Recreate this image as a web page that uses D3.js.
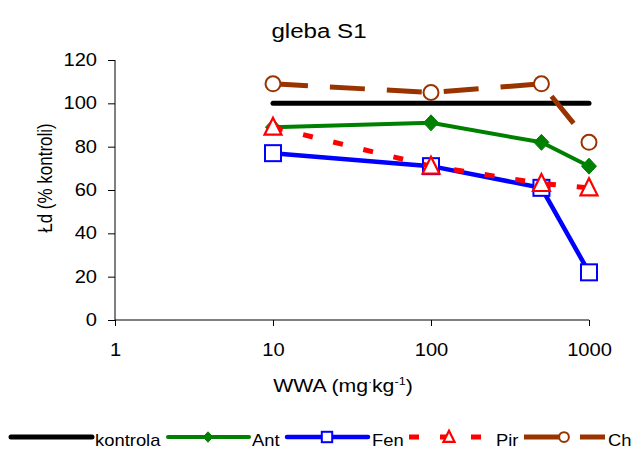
<!DOCTYPE html>
<html lang="pl">
<head>
<meta charset="UTF-8">
<title>gleba S1</title>
<script src="https://cdn.jsdelivr.net/npm/d3@7"></script>
<style>
  body { margin: 0; background: #fff; font-family: 'Liberation Sans', Arial, sans-serif; }
  svg text { font-family: 'Liberation Sans', Arial, sans-serif; fill: #000; }
</style>
</head>
<body>
<svg id="chart" width="634" height="449"></svg>
<script>
// dawki WWA (mg/kg)
const doses = [10, 100, 500, 1000];
const xTicks = [1, 10, 100, 1000];
const yTicks = [0, 20, 40, 60, 80, 100, 120];

const kontrola = [100, 100, 100, 100];
const ant = [89, 91, 82, 71];
const fen = [77, 71, 61, 22];
const pir = [89, 71, 63, 61];
const ch = [109, 105, 109, 82];

const svg = d3.select("#chart");
const x = d3.scaleLog().domain([1, 1000]).range([115, 589]);
const y = d3.scaleLinear().domain([0, 120]).range([320, 60]);
const SX = 1.15; // text in the original is a bit wider than Arial

// title
svg.append("g").attr("transform", `translate(319,38) scale(${SX},1)`)
  .append("text").attr("text-anchor", "middle").attr("font-size", 21).text("gleba S1");

// axes
const yAxis = svg.append("g").attr("transform", "translate(115,0)")
  .call(d3.axisLeft(y).tickValues(yTicks).tickSize(7).tickPadding(11).tickFormat(d3.format("d")));
const xAxis = svg.append("g").attr("transform", "translate(0,320)")
  .call(d3.axisBottom(x).tickValues(xTicks).tickSize(6).tickPadding(18).tickFormat(d3.format("d")));
[yAxis, xAxis].forEach(a => {
  a.select(".domain").attr("stroke", "#000").attr("stroke-width", 1);
  a.selectAll(".tick line").attr("stroke", "#000");
  a.selectAll(".tick text").attr("font-size", 17.5).attr("fill", "#000")
    .attr("transform", `scale(${SX},1)`);
});
yAxis.selectAll(".tick text").attr("x", -18 / SX);
yAxis.select(".domain").attr("d", "M0,320V60");
xAxis.select(".domain").attr("d", "M115,0H589");

// axis titles
svg.append("text").attr("transform", `translate(52,178) scale(${SX},1) rotate(-90)`)
  .attr("text-anchor", "middle").attr("font-size", 17).text("Łd (% kontroli)");
const xl = svg.append("g").attr("transform", `translate(343,392) scale(${SX},1)`)
  .append("text").attr("text-anchor", "middle").attr("font-size", 18.5);
xl.append("tspan").text("WWA (mg");
xl.append("tspan").attr("dy", -6).attr("font-size", 10).text("·");
xl.append("tspan").attr("dy", 6).text("kg");
xl.append("tspan").attr("dy", -7).attr("font-size", 11).text("-1");
xl.append("tspan").attr("dy", 7).text(")");

const series = [
  { name: "kontrola", values: kontrola, color: "#000000", width: 5, dash: null, legDash: null, marker: null },
  { name: "Ant", values: ant, color: "#008000", width: 4, dash: null, legDash: null, marker: "diamond" },
  { name: "Fen", values: fen, color: "#0000FF", width: 4.5, dash: null, legDash: null, marker: "square" },
  { name: "Pir", values: pir, color: "#FF0000", width: 5, dash: "10,21", legDash: "10,21", marker: "triangle" },
  { name: "Ch", values: ch, color: "#993300", width: 5, dash: "35,22", legDash: "40,16,30", marker: "circle" }
];

const line = d3.line().x(d => x(d[0])).y(d => y(d[1]));

function drawMarker(g, type, cx, cy, color, k) {
  if (type === "diamond") {
    g.append("path").attr("d", `M${cx},${cy - 8 * k}L${cx + 7.5 * k},${cy}L${cx},${cy + 8 * k}L${cx - 7.5 * k},${cy}Z`)
      .attr("fill", color).attr("stroke", color).attr("stroke-width", 1);
  } else if (type === "square") {
    g.append("rect").attr("x", cx - 8 * k).attr("y", cy - 8 * k).attr("width", 16 * k).attr("height", 16 * k)
      .attr("fill", "#fff").attr("stroke", color).attr("stroke-width", 2);
  } else if (type === "triangle") {
    g.append("path").attr("d", `M${cx},${cy - 9.5 * k}L${cx + 8.5 * k},${cy + 7.5 * k}L${cx - 8.5 * k},${cy + 7.5 * k}Z`)
      .attr("fill", "#fff").attr("stroke", color).attr("stroke-width", 2.2);
  } else if (type === "circle") {
    g.append("circle").attr("cx", cx).attr("cy", cy).attr("r", 7.5 * k)
      .attr("fill", "#fff").attr("stroke", color).attr("stroke-width", 2);
  }
}

series.forEach(s => {
  const pts = doses.map((d, i) => [d, s.values[i]]);
  const g = svg.append("g");
  g.append("path").attr("d", line(pts)).attr("fill", "none")
    .attr("stroke", s.color).attr("stroke-width", s.width)
    .attr("stroke-linecap", s.dash ? "butt" : "round")
    .attr("stroke-linejoin", "round")
    .attr("stroke-dasharray", s.dash);
  if (s.marker) pts.forEach(p => drawMarker(g, s.marker, x(p[0]), y(p[1]), s.color, 1));
});

// legend
const legendX = [11, 168, 287, 409, 524];
const legendText = [95, 252, 372, 496, 608];
series.forEach((s, i) => {
  const lx = legendX[i], ly = 437, w = 81;
  const g = svg.append("g");
  g.append("path").attr("d", `M${lx},${ly}H${lx + w}`).attr("stroke", s.color)
    .attr("stroke-width", s.width).attr("stroke-linecap", s.dash ? "butt" : "round")
    .attr("stroke-dasharray", s.legDash);
  if (s.marker) drawMarker(g, s.marker, lx + 40, ly, s.color, 0.65);
  g.append("g").attr("transform", `translate(${legendText[i]},446) scale(${SX},1)`)
    .append("text").attr("font-size", 16).text(s.name);
});
</script>
</body>
</html>
